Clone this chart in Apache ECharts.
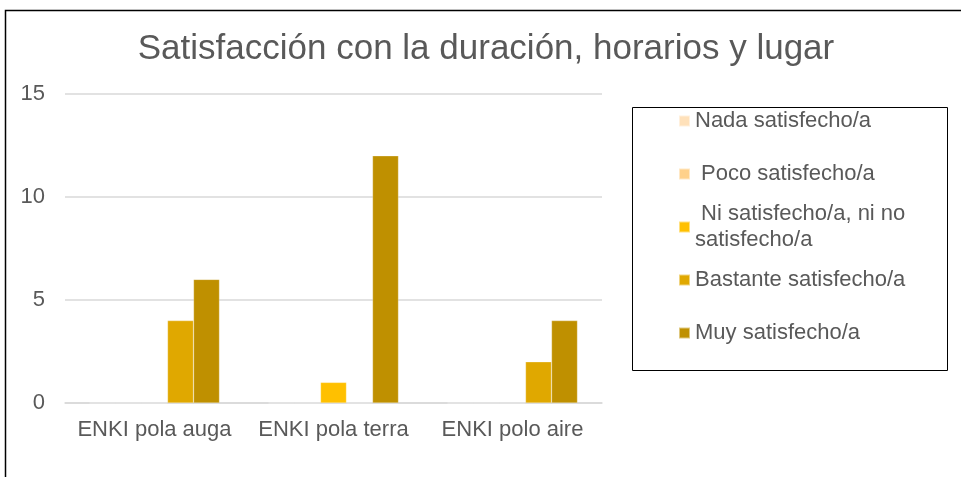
<!DOCTYPE html>
<html>
<head>
<meta charset="utf-8">
<script src="https://cdn.jsdelivr.net/npm/echarts@6/dist/echarts.min.js"></script>
<style>
	html, body { margin: 0; padding: 0; background: #fff; }
	#chart { width: 961px; height: 477px; }
</style>
</head>
<body>
<div id="chart"></div>
<script>
// data
var categories = ['ENKI pola auga', 'ENKI pola terra', 'ENKI polo aire'];
var seriesNames = ['Nada satisfecho/a', ' Poco satisfecho/a', ' Ni satisfecho/a, ni no satisfecho/a', 'Bastante satisfecho/a', 'Muy satisfecho/a'];
var nada = [0, 0, 0];
var poco = [0, 0, 0];
var ni = [0, 1, 0];
var bastante = [4, 0, 2];
var muy = [6, 12, 4];
var yTicks = [0, 5, 10, 15];

var colors = ['#FFE1BA', '#FFD18A', '#FFC000', '#E0A800', '#BF9000'];
var values = [nada, poco, ni, bastante, muy];
var textColor = '#595959';
var font = 'Liberation Sans, Arial, sans-serif';

var myChart = echarts.init(document.getElementById('chart'));

// one legend per item so each row sits where the picture has it
var legendCenters = [121, 174, 227, 280, 333];
var legends = seriesNames.map(function (name, i) {
	var wrapped = i === 2;
	return {
		data: [name],
		orient: 'vertical',
		left: 678,
		top: wrapped ? legendCenters[i] - 39 : legendCenters[i] - 13,
		padding: 0,
		itemWidth: 11,
		itemHeight: 11,
		itemGap: 0,
		icon: 'rect',
		selectedMode: false,
		formatter: function (n) {
			return n.replace('ni no satisfecho', 'ni no\nsatisfecho');
		},
		textStyle: {
			color: textColor,
			fontFamily: font,
			fontSize: 22,
			lineHeight: 26,
			padding: wrapped ? [26, 0, 0, 0] : 0
		}
	};
});

var option = {
	animation: false,
	backgroundColor: '#fff',
	color: colors,
	title: {
		text: 'Satisfacción con la duración, horarios y lugar',
		left: 486,
		textAlign: 'center',
		top: 32,
		padding: 0,
		textStyle: {
			color: textColor,
			fontFamily: font,
			fontSize: 35,
			fontWeight: 'normal'
		}
	},
	legend: legends,
	grid: {
		left: 65,
		right: 359,
		top: 94,
		bottom: 74,
		containLabel: false
	},
	xAxis: {
		type: 'category',
		data: categories,
		axisLine: { lineStyle: { color: '#D9D9D9', width: 1.5 } },
		axisTick: { show: false },
		axisLabel: {
			interval: 0,
			color: textColor,
			fontFamily: font,
			fontSize: 22,
			margin: 16
		}
	},
	yAxis: {
		type: 'value',
		min: yTicks[0],
		max: yTicks[yTicks.length - 1],
		interval: 5,
		axisLine: { show: false },
		axisTick: { show: false },
		splitLine: { lineStyle: { color: '#D9D9D9', width: 1.5 } },
		axisLabel: {
			color: textColor,
			fontFamily: font,
			fontSize: 22,
			margin: 20
		}
	},
	series: seriesNames.map(function (name, i) {
		return {
			name: name,
			type: 'bar',
			data: values[i],
			barWidth: 26,
			barGap: '0%',
			itemStyle: { color: colors[i], borderColor: 'rgba(255,255,255,0.5)', borderWidth: 0.5 }
		};
	}),
	graphic: [{
		// outer chart border, only the left and top edges are in the picture
		type: 'polyline',
		shape: { points: [[5.5, 477], [5.5, 10.5], [961, 10.5]] },
		style: { stroke: '#000', lineWidth: 1.5, fill: null }
	}, {
		type: 'rect',
		shape: { x: 632.5, y: 107.5, width: 315, height: 263 },
		style: { stroke: '#000', lineWidth: 1, fill: null },
		z: -1
	}]
};
myChart.setOption(option);
window.onresize = function () {
	myChart.resize();
};
</script>
</body>
</html>
